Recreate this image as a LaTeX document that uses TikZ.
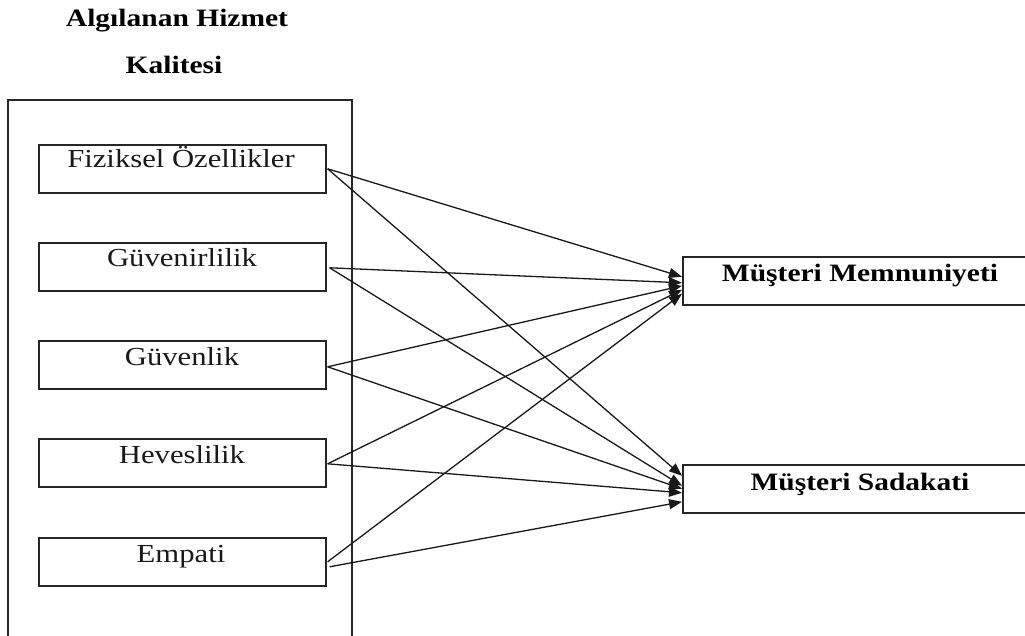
\documentclass[tikz,border=0pt]{standalone}
\usepackage{fontspec}
\usepackage{graphicx}
\setmainfont{Liberation Serif}
\usetikzlibrary{arrows.meta}
\newcommand{\sx}[1]{\scalebox{1.18}[1]{#1}}
\tikzset{
  box/.style={draw=black!85, line width=1.6pt, inner sep=0pt, anchor=north west},
  lbl/.style={font=\fontsize{26}{30}\selectfont, anchor=base, inner sep=0pt, text=black!90},
  blbl/.style={font=\fontsize{25}{30}\selectfont\bfseries, anchor=base, inner sep=0pt},
  arr/.style={draw=black!90, line width=1.3pt, -{Triangle[length=13pt,width=10pt]}}
}
\begin{document}
\begin{tikzpicture}[x=1pt,y=-1pt]
\useasboundingbox (0,0) rectangle (1025,636);
\clip (0,0) rectangle (1025,636);
\fill[white] (0,0) rectangle (1025,636);
% title
\node[blbl] (t1) at (177,27) {\sx{Algılanan Hizmet}};
\node[blbl] (t2) at (174,74) {\sx{Kalitesi}};
% outer frame
\node[box, minimum width=344pt, minimum height=560pt] (outer) at (7,99) {};
% left boxes
\node[box, minimum width=287pt, minimum height=48pt] (fiz) at (38,144) {};
\node[box, minimum width=287pt, minimum height=48pt] (gvr) at (38,242) {};
\node[box, minimum width=287pt, minimum height=48pt] (gvl) at (38,340) {};
\node[box, minimum width=287pt, minimum height=48pt] (hev) at (38,438) {};
\node[box, minimum width=287pt, minimum height=48pt] (emp) at (38,537) {};
\node[lbl] (fizt) at (181,168) {\sx{Fiziksel Özellikler}};
\node[lbl] (gvrt) at (182,267) {\sx{Güvenirlilik}};
\node[lbl] (gvlt) at (182,365) {\sx{Güvenlik}};
\node[lbl] (hevt) at (182,463) {\sx{Heveslilik}};
\node[lbl] (empt) at (181,562) {\sx{Empati}};
% right boxes
\node[box, minimum width=360pt, minimum height=48pt] (mm) at (682,256) {};
\node[box, minimum width=360pt, minimum height=48pt] (ms) at (682,464) {};
\node[blbl] (mmt) at (860,282) {\sx{Müşteri Memnuniyeti}};
\node[blbl] (mst) at (860,490) {\sx{Müşteri Sadakati}};
% arrows
\draw[arr] ([xshift=1pt]fiz.east) -- ([yshift=4pt]mm.west);
\draw[arr] ([xshift=1pt]fiz.east) -- ([yshift=13pt]ms.west);
\draw[arr] ([xshift=3pt,yshift=-1pt]gvr.east) -- ([yshift=-2pt]mm.west);
\draw[arr] ([xshift=3pt,yshift=-1pt]gvr.east) -- ([yshift=3pt]ms.west);
\draw[arr] ([xshift=1pt,yshift=-2pt]gvl.east) -- ([yshift=-5pt]mm.west);
\draw[arr] ([xshift=1pt,yshift=-2pt]gvl.east) -- ([yshift=0pt]ms.west);
\draw[arr] ([xshift=1pt,yshift=-1pt]hev.east) -- ([yshift=-9pt]mm.west);
\draw[arr] ([xshift=1pt,yshift=-1pt]hev.east) -- ([yshift=-4pt]ms.west);
\draw[arr] ([xshift=1pt]emp.east) -- ([yshift=-13pt]mm.west);
\draw[arr] ([xshift=3pt,yshift=-5pt]emp.east) -- ([yshift=-13pt]ms.west);
\end{tikzpicture}
\end{document}
